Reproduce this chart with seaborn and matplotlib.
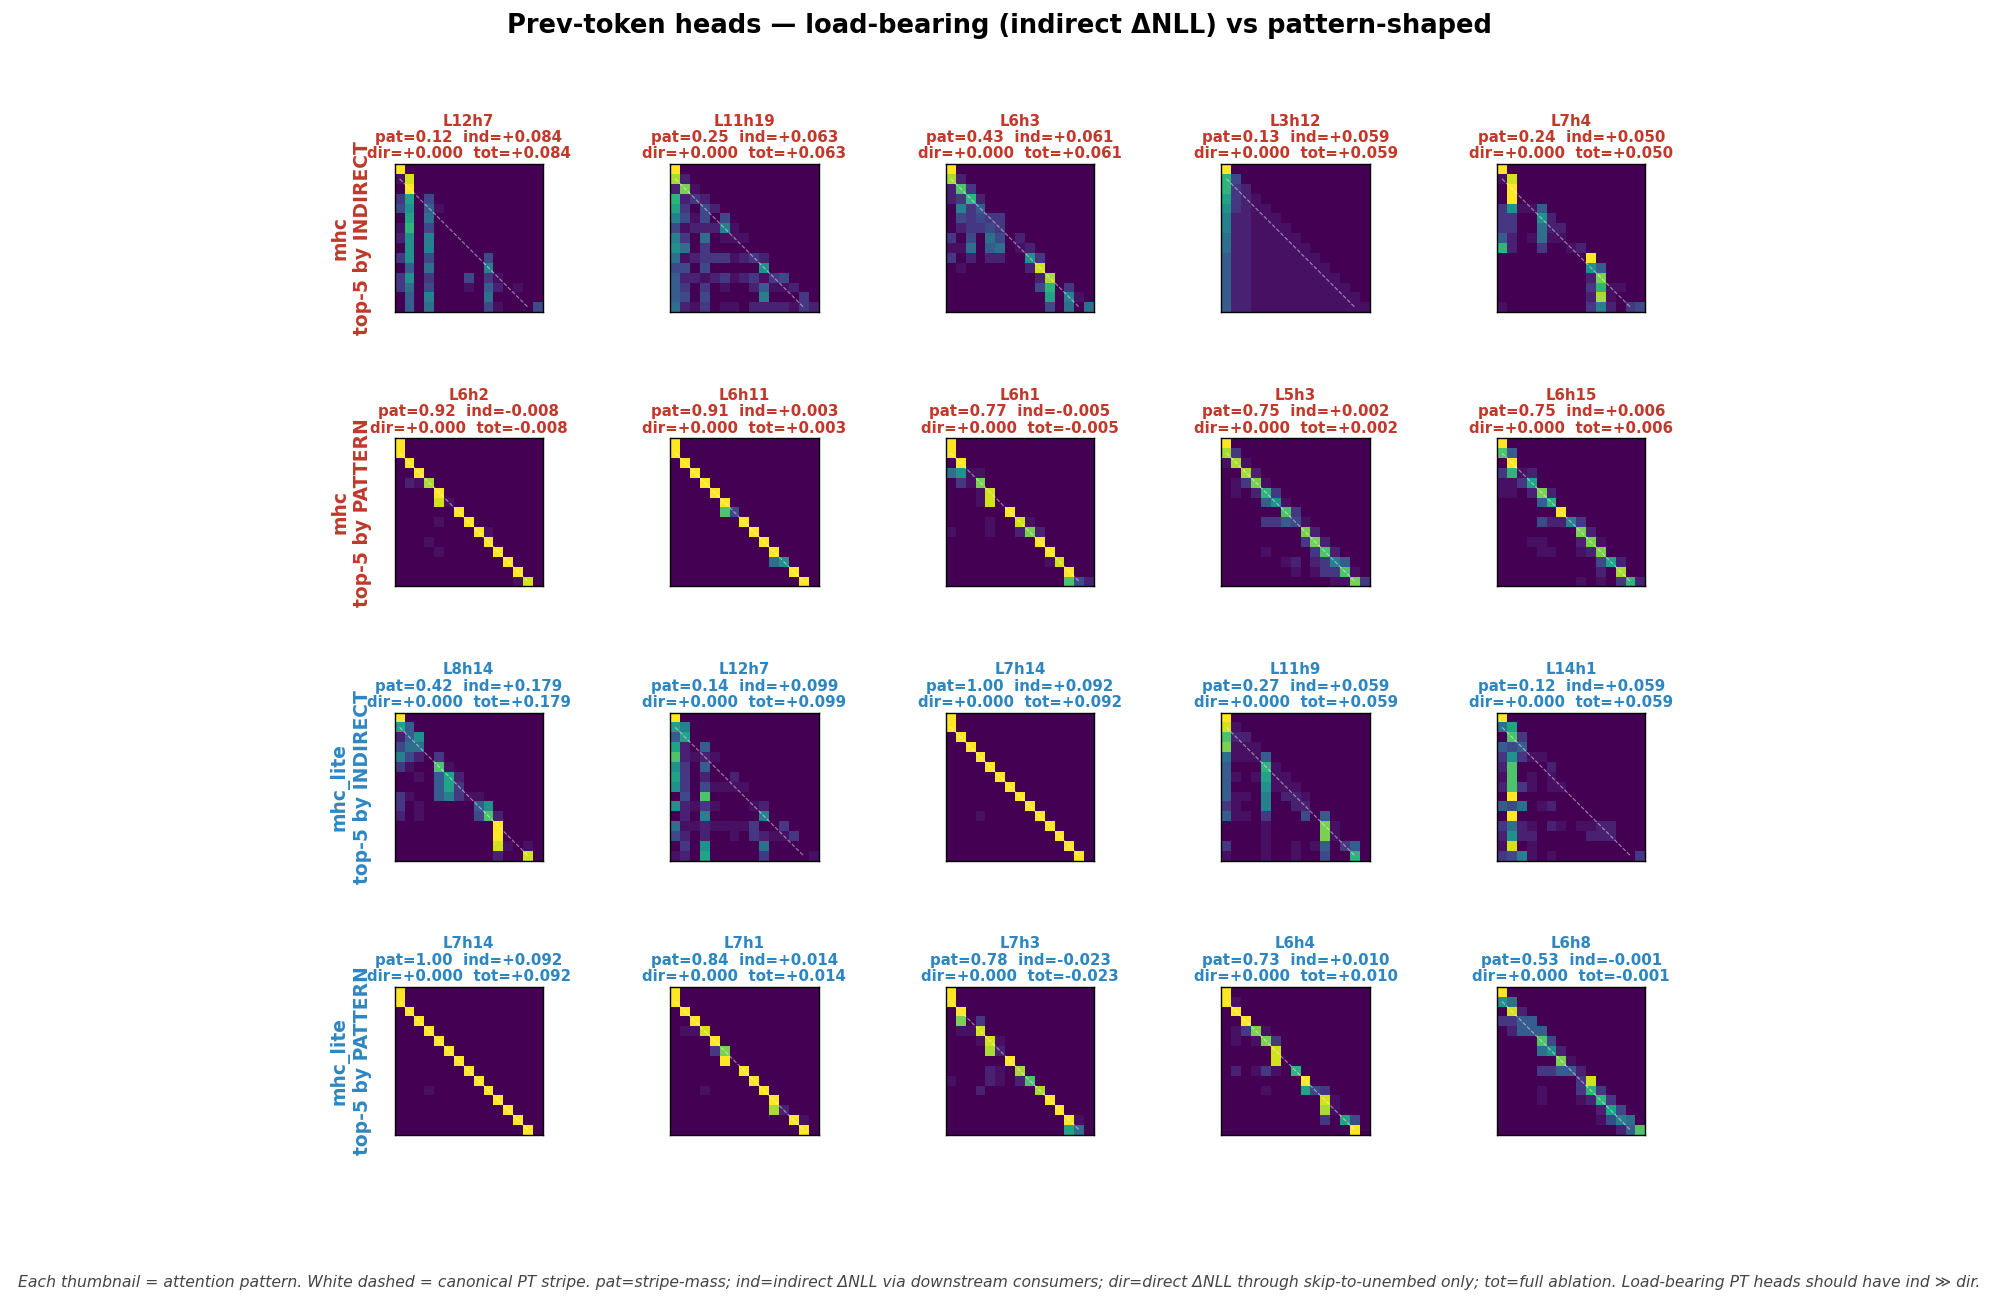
import numpy as np
import matplotlib
matplotlib.use("Agg")
import matplotlib.pyplot as plt
import seaborn as sns

# attention thumbnails, one hex digit per cell (0 = none, F = max), 15 x 15
L12H7_MHC = ["F00000000000000", "1E0000000000000", "0F0000000000000", "390400000000000", "480510000000000",
             "090600000000000", "1A0400000000000", "280700000000000", "080700000000000", "380400000400000",
             "050600000700000", "380300040310000", "360400010520100", "050700000600000", "050600000410004"]
L11H19_MHC = ["F00000000000000", "D20000000000000", "2C1000000000000", "A23200000000000", "930420000000000",
              "741404000000000", "412227100000000", "730601110000000", "860300000000000", "612333123200000",
              "440400000800000", "522123123134000", "530301002511200", "540400000700030", "621301102222132"]
L6H3_MHC = ["F00000000000000", "D20000000000000", "2B3000000000000", "23A200000000000", "073500000000000",
            "043433000000000", "023343000000000", "304064020000000", "116056012000000", "302022008300000",
            "010000002E00000", "0000000002D0000", "0000000004A0300", "000000000090710", "000000000040606"]
L3H12_MHC = ["F00000000000000", "A40000000000000", "A32000000000000", "932100000000000", "832110000000000",
             "722111000000000", "722111100000000", "622111110000000", "622111111000000", "522111111100000",
             "522111111110000", "522111111111000", "522111111111100", "522111111111110", "522111111111111"]
L7H4_MHC = ["F00000000000000", "1E0000000000000", "0F0000000000000", "0F0000000000000", "381150000000000",
            "330082000000000", "330062200000000", "520161100000000", "A20030012000000", "000000000F00000",
            "000000000850000", "0000000002C0000", "0000000003A1100", "0000000002D1000", "100000000372034"]

L6H2_MHC = ["F00000000000000", "F00000000000000", "0F0000000000000", "00F000000000000", "021D00000000000",
            "0000F0000000000", "0000E1000000000", "000000F00000000", "0000100F0000000", "00000000F100000",
            "000100000F00000", "0000100000F0000", "00000000000F000", "000000000000F00", "0000000000001E0"]
L6H11_MHC = ["F00000000000000", "F00000000000000", "0F0000000000000", "00F000000000000", "000F00000000000",
             "0000F0000000000", "00000F000000000", "00000B400000000", "0000000F0000000", "00000000F000000",
             "000000000F00000", "0000000000F0000", "000000000068000", "000000000000F00", "0000000000000F0"]
L6H1_MHC = ["F00000000000000", "F00000000000000", "0F0000000000000", "681100000000000", "031C00000000000",
            "0001E0000000000", "0001E0000000000", "000000F00000000", "0000100E1000000", "10001002C200000",
            "000000000F00000", "0000000000F0000", "00000000001E000", "000000000000F00", "000000000000B42"]
L5H3_MHC = ["F00000000000000", "D30000000000000", "1D1000000000000", "00D200000000000", "013C10000000000",
            "0102A3000000000", "000058100000000", "000000B30000000", "000033541000000", "00000000C200000",
            "000000003C20000", "0000100003B2000", "000000120237500", "000000010133B10", "0000000000011C3"]
L6H15_MHC = ["F00000000000000", "B50000000000000", "0F0000000000000", "3A1200000000000", "113900000000000",
             "1102C2000000000", "00005A000000000", "000000F00000000", "000042273000000", "00000000C200000",
             "000110002C10000", "0000110012C0000", "000000000049200", "000000000020D00", "0000000010103A2"]

L8H14_LITE = ["F00000000000000", "950000000000000", "258000000000000", "466000000000000", "742030000000000",
              "3100B1000000000", "001059200000000", "000059300000000", "310057311000000", "301000005800000",
              "201000004B20000", "0000000000F0000", "0000000000F0000", "0000000000E1010", "0000000000200E0"]
L12H7_LITE = ["F00000000000000", "970000000000000", "590000000000000", "920500000000000", "B21210000000000",
              "830500000000000", "930200200000000", "830411110000000", "040B00000000000", "821310001200000",
              "020700000700000", "611211113003000", "420200103211300", "030800000600000", "120900000300001"]
L7H14_LITE = ["F00000000000000", "F00000000000000", "0F0000000000000", "00F000000000000", "000F00000000000",
              "0000F0000000000", "00000F000000000", "000000F00000000", "0000000F0000000", "00000000F000000",
              "000100000F00000", "0000000000F0000", "00000000000F000", "000000000000F00", "0000000000000F0"]
L11H9_LITE = ["F00000000000000", "E10000000000000", "B22000000000000", "C11100000000000", "611150000000000",
              "5000A1000000000", "510191100000000", "500081110000000", "511070221000000", "310070022000000",
              "511030004050000", "0000100000C1000", "0000100000C1000", "300010010150350", "1000100100400A0"]
L14H1_LITE = ["F00000000000000", "690000000000000", "0B3000000000000", "545000000000000", "383110000000000",
              "2B0002000000000", "1B0101000000000", "2B3101100000000", "0F0000000000000", "546012000000000",
              "0F0000000000000", "362102101122000", "282200000222000", "1E0100000000000", "347101000000003"]

L7H1_LITE = ["F00000000000000", "F00000000000000", "0F0000000000000", "00F000000000000", "011E00000000000",
             "0000F0000000000", "00003C000000000", "00000F000000000", "0000000F0000000", "00000000F000000",
             "000100000F00000", "0000000000F0000", "0000000000D2000", "000000000000F10", "0000000000000F0"]
L7H3_LITE = ["F00000000000000", "F00000000000000", "0F0000000000000", "0C0300000000000", "011E00000000000",
             "0001E1000000000", "0000D2000000000", "000000F00000000", "0000210D0000000", "10002102B000000",
             "000200000D00000", "0000000000F0000", "00000000000F000", "000000000000F10", "000000000000960"]
L6H4_LITE = ["F00000000000000", "F10000000000000", "0F0000000000000", "00F000000000000", "013C10000000000",
             "0101C3000000000", "00000E000000000", "00000E000000000", "0201310A0000000", "00000000F000000",
             "000010009430000", "0000000000E1000", "0000000000D1000", "000000000030940", "0000000000000F0"]
L6H8_LITE = ["F00000000000000", "860000000000000", "0E2000000000000", "335500000000000", "025550000000000",
             "0000B4000000000", "000068200000000", "000000C10000000", "000033552000000", "000000003E00000",
             "000010003A30000", "0000100012A3000", "000000000029400", "000000000014760", "00000000000025B"]

# what each hex digit stands for on the colour scale
LEVELS = [0, 0.04, 0.09, 0.16, 0.22, 0.29, 0.36, 0.43, 0.50, 0.58, 0.65, 0.72, 0.80, 0.87, 0.93, 1.0]

# grid rows
ROW_LABELS = ["mhc\ntop-5 by INDIRECT", "mhc\ntop-5 by PATTERN",
              "mhc_lite\ntop-5 by INDIRECT", "mhc_lite\ntop-5 by PATTERN"]
ROW_COLORS = ["#c0392b", "#c0392b", "#2e86c1", "#2e86c1"]

HEAD_NAMES = [["L12h7", "L11h19", "L6h3", "L3h12", "L7h4"],
              ["L6h2", "L6h11", "L6h1", "L5h3", "L6h15"],
              ["L8h14", "L12h7", "L7h14", "L11h9", "L14h1"],
              ["L7h14", "L7h1", "L7h3", "L6h4", "L6h8"]]
PATTERNS = [[L12H7_MHC, L11H19_MHC, L6H3_MHC, L3H12_MHC, L7H4_MHC],
            [L6H2_MHC, L6H11_MHC, L6H1_MHC, L5H3_MHC, L6H15_MHC],
            [L8H14_LITE, L12H7_LITE, L7H14_LITE, L11H9_LITE, L14H1_LITE],
            [L7H14_LITE, L7H1_LITE, L7H3_LITE, L6H4_LITE, L6H8_LITE]]
PAT = [[0.12, 0.25, 0.43, 0.13, 0.24],
       [0.92, 0.91, 0.77, 0.75, 0.75],
       [0.42, 0.14, 1.00, 0.27, 0.12],
       [1.00, 0.84, 0.78, 0.73, 0.53]]
IND = [[0.084, 0.063, 0.061, 0.059, 0.050],
       [-0.008, 0.003, -0.005, 0.002, 0.006],
       [0.179, 0.099, 0.092, 0.059, 0.059],
       [0.092, 0.014, -0.023, 0.010, -0.001]]
DIR = [[0.0] * 5, [0.0] * 5, [0.0] * 5, [0.0] * 5]
TOT = IND

TITLE = "Prev-token heads \u2014 load-bearing (indirect \u0394NLL) vs pattern-shaped"
FOOTER = ("Each thumbnail = attention pattern. White dashed = canonical PT stripe. pat=stripe-mass; "
          "ind=indirect \u0394NLL via downstream consumers; dir=direct \u0394NLL through skip-to-unembed only; "
          "tot=full ablation. Load-bearing PT heads should have ind \u226b dir.")


def decode(rows):
    return np.array([[LEVELS[int(c, 16)] for c in r] for r in rows])


sns.set_style("white")
plt.rcParams['font.family'] = ['DejaVu Sans']

W, H = 1999, 1304
fig, axes = plt.subplots(4, 5, figsize=(W / 100, H / 100), dpi=100)
fig.subplots_adjust(left=394.5 / W, right=1645.5 / W, top=1 - 164 / H, bottom=1 - 1135 / H,
                    wspace=0.855, hspace=0.85)

for i in range(4):
    color = ROW_COLORS[i]
    for j in range(5):
        ax = axes[i, j]
        mat = decode(PATTERNS[i][j])
        n = mat.shape[0]
        sns.heatmap(mat, ax=ax, cmap="viridis", vmin=0, vmax=1, cbar=False, square=True,
                    xticklabels=False, yticklabels=False)
        # canonical previous-token stripe
        ax.plot([0.5, n - 1.5], [1.5, n - 0.5], color="white", ls="--", lw=0.8, alpha=0.5)
        for s in ax.spines.values():
            s.set_visible(True)
            s.set_color("black")
            s.set_linewidth(1.0)
        ax.set_title(f"{HEAD_NAMES[i][j]}\npat={PAT[i][j]:.2f}  ind={IND[i][j]:+.3f}\n"
                     f"dir={DIR[i][j]:+.3f}  tot={TOT[i][j]:+.3f}",
                     fontsize=10.8, fontweight="bold", color=color, pad=4, linespacing=1.12)
    axes[i, 0].set_ylabel(ROW_LABELS[i], fontsize=13.5, fontweight="bold", color=color,
                          labelpad=16, linespacing=1.25)

fig.text(0.5, 1 - 26 / H, TITLE, fontsize=18.5, fontweight="bold", color="black", ha="center", va="center")
fig.text(0.5, 1 - 1282 / H, FOOTER, fontsize=11.25, style="italic", color="#444444", ha="center", va="center")

fig.savefig("out.png", dpi=100)
